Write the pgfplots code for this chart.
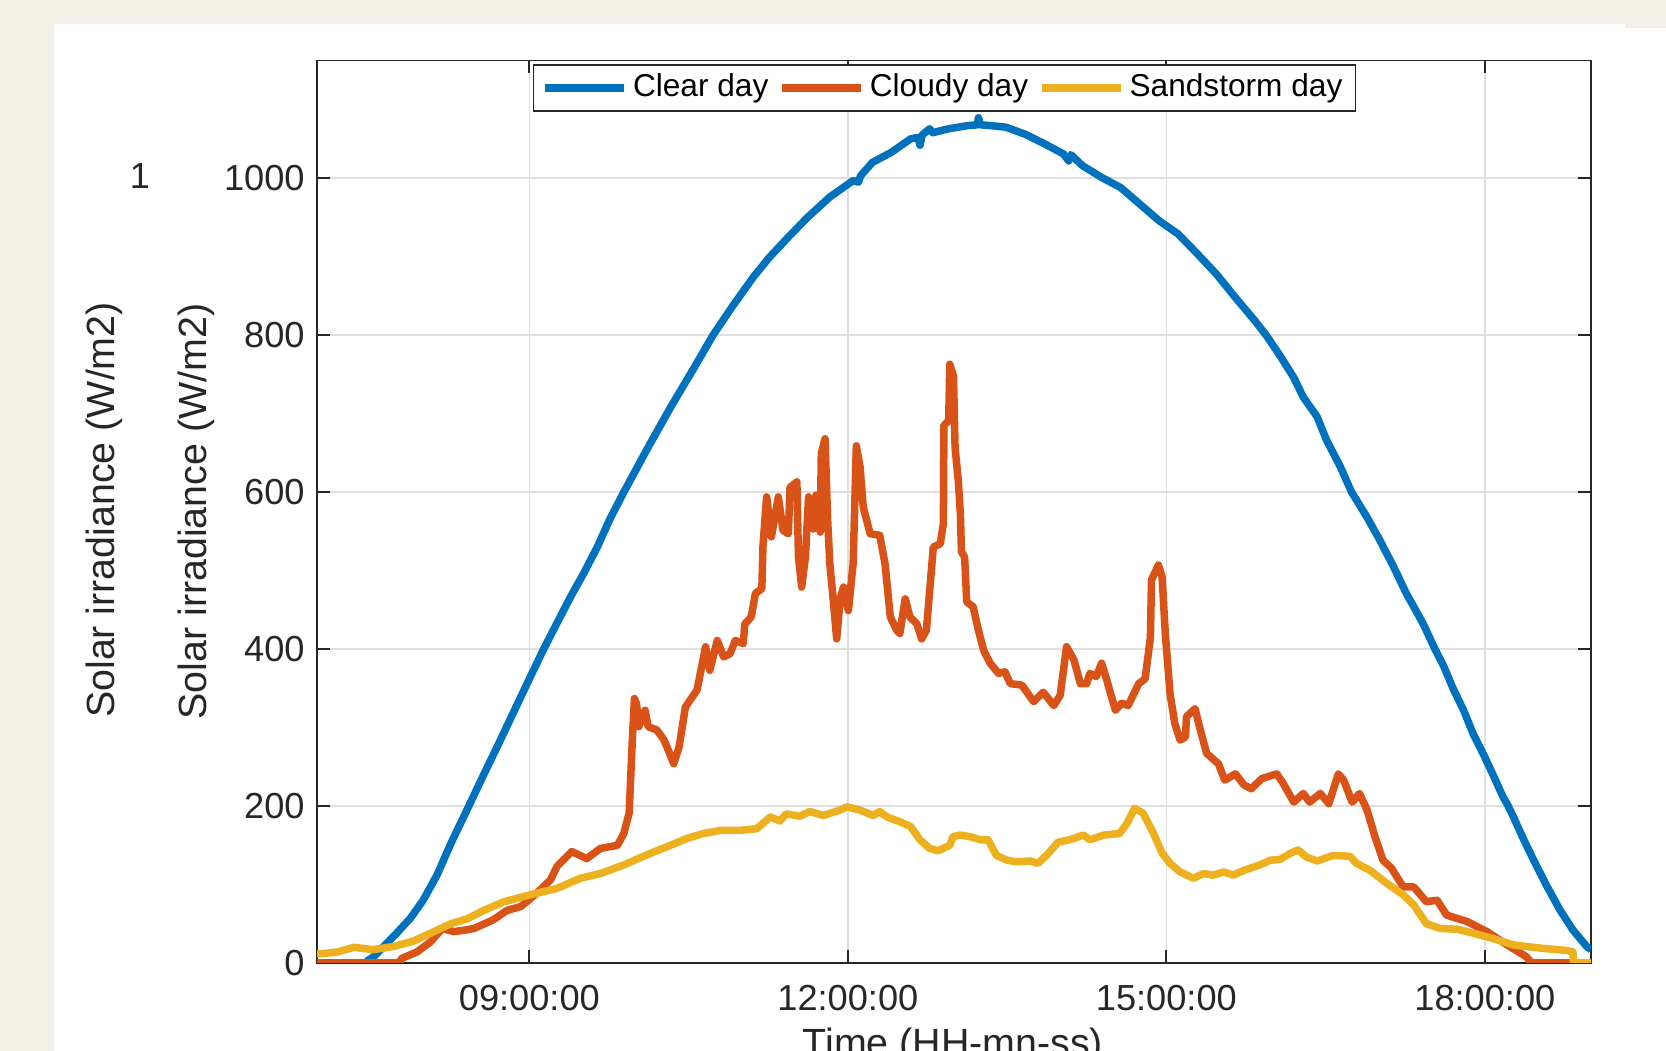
\documentclass[border=0pt]{standalone}
\usepackage{fontspec}
\setmainfont{Liberation Sans}
\usepackage{pgfplots}
\pgfplotsset{compat=1.18}
\definecolor{cBlue}{RGB}{0,114,189}
\definecolor{cOrange}{RGB}{217,83,25}
\definecolor{cYellow}{RGB}{237,177,32}
\definecolor{axisgray}{RGB}{38,38,38}
\definecolor{gridgray}{RGB}{223,223,223}
\definecolor{bgbeige}{RGB}{243,240,232}
\begin{document}
\begin{tikzpicture}
\useasboundingbox (0,0) rectangle (166.6mm,105.1mm);
\clip (0,0) rectangle (166.6mm,105.1mm);
\fill[bgbeige] (0,0) rectangle (166.6mm,105.1mm);
\fill[white] (5.4mm,0) rectangle (166.6mm,102.7mm);
\fill[bgbeige] (162.5mm,102.3mm) rectangle (166.6mm,102.7mm);
\begin{axis}[
  scale only axis,
  width=127.4mm, height=90.25mm,
  at={(31.7mm,8.8mm)}, anchor=south west,
  xmin=7, xmax=19, ymin=0, ymax=1150,
  xtick={9,12,15,18},
  xticklabels={09:00:00,12:00:00,15:00:00,18:00:00},
  ytick={0,200,400,600,800,1000},
  yticklabels={0,200,400,600,800,1000},
  tick align=inside,
  major tick length=1.3mm,
  grid=major,
  major grid style={color=gridgray, line width=0.4pt},
  axis line style={color=axisgray, line width=0.5pt},
  every tick/.style={color=axisgray, line width=0.5pt},
  ticklabel style={font=\fontsize{10.3}{12}\selectfont, text=axisgray},
  xticklabel style={yshift=-1.0mm},
  legend columns=3,
  legend cell align=left,
  legend style={at={(0.4925,0.9961)}, anchor=north,
    draw=axisgray, line width=0.5pt, fill=white,
    font=\fontsize{9}{10.5}\selectfont,
    inner xsep=0.8mm, inner ysep=0.4mm,
    nodes={inner sep=0.5mm, text=black},
    column sep=0mm,
    /tikz/every even column/.append style={column sep=0.5mm}},
  legend image code/.code={\draw[#1] (0mm,0mm) -- (7.9mm,0mm);},
]
\addplot[color=cBlue, line width=0.75mm, line join=round] coordinates {
(7.00,0) (7.45,0) (7.55,10) (7.65,24) (7.75,38) (7.88,57) (8.00,80) (8.13,112)
(8.26,152) (8.43,200) (8.57,240) (8.72,282) (8.86,322) (9.00,362) (9.135,400)
(9.26,433) (9.39,467) (9.51,496) (9.64,530) (9.76,566) (9.89,600) (10.11,655)
(10.33,708) (10.55,758) (10.73,800) (10.92,838) (11.11,874) (11.26,899)
(11.44,925) (11.62,950) (11.83,976) (12.05,997) (12.10,995) (12.12,1003)
(12.23,1020) (12.41,1033) (12.59,1050) (12.66,1052) (12.68,1042) (12.70,1055)
(12.77,1063) (12.80,1058) (12.95,1063) (13.13,1067) (13.22,1068) (13.23,1077)
(13.25,1068) (13.35,1067) (13.49,1065) (13.67,1056) (13.85,1044) (14.03,1031)
(14.08,1022) (14.10,1030) (14.21,1016) (14.39,1001) (14.57,988) (14.75,967)
(14.93,946) (15.11,929) (15.29,904) (15.47,878) (15.65,848) (15.83,819)
(15.94,800) (16.07,774) (16.20,746) (16.29,721) (16.42,696) (16.51,666)
(16.64,632) (16.745,600) (16.89,568) (17.01,539) (17.14,505) (17.26,471)
(17.33,454) (17.42,432) (17.53,400) (17.61,379) (17.70,350) (17.80,322)
(17.89,292) (17.99,265) (18.08,239) (18.17,212) (18.22,200) (18.27,186)
(18.36,159) (18.46,131) (18.58,99) (18.71,67) (18.83,42) (18.96,21) (19.00,17)
};
\addlegendentry{Clear day}
\addplot[color=cOrange, line width=0.75mm, line join=round] coordinates {
(7.00,0) (7.77,0) (7.80,6) (7.94,14) (8.07,27) (8.18,44) (8.29,40) (8.40,42)
(8.48,44) (8.66,55) (8.79,67) (8.92,72) (9.07,89) (9.20,106) (9.26,123)
(9.40,142) (9.54,133) (9.67,146) (9.83,150) (9.89,165) (9.94,191) (9.97,284)
(9.99,337) (10.01,330) (10.03,301) (10.09,322) (10.12,301) (10.20,297)
(10.27,284) (10.36,254) (10.41,275) (10.47,326) (10.58,348) (10.66,403)
(10.70,373) (10.77,411) (10.83,390) (10.89,394) (10.94,411) (11.015,407)
(11.03,432) (11.09,441) (11.13,471) (11.19,477) (11.20,530) (11.235,594)
(11.28,543) (11.345,594) (11.39,551) (11.44,547) (11.455,606) (11.52,613)
(11.535,517) (11.565,479) (11.60,517) (11.63,594) (11.675,553) (11.70,596)
(11.74,549) (11.75,649) (11.785,668) (11.81,564) (11.83,509) (11.86,466)
(11.895,413) (11.93,466) (11.96,479) (12.005,449) (12.05,509) (12.08,659)
(12.115,632) (12.145,581) (12.21,547) (12.30,545) (12.35,509) (12.40,441)
(12.46,424) (12.49,420) (12.54,464) (12.585,441) (12.65,432) (12.695,413)
(12.74,424) (12.805,530) (12.87,534) (12.90,560) (12.905,685) (12.95,691)
(12.96,763) (12.995,748) (13.01,657) (13.04,615) (13.06,572) (13.07,524)
(13.10,517) (13.12,460) (13.18,454) (13.23,424) (13.28,398) (13.34,382)
(13.42,369) (13.48,371) (13.53,356) (13.64,354) (13.75,333) (13.84,345)
(13.94,328) (14.00,341) (14.06,403) (14.13,386) (14.19,356) (14.25,356)
(14.28,369) (14.34,365) (14.39,382) (14.44,360) (14.52,322) (14.58,331)
(14.64,328) (14.74,356) (14.80,362) (14.85,415) (14.86,488) (14.925,507)
(14.96,492) (14.99,420) (15.035,343) (15.08,305) (15.13,284) (15.18,288)
(15.19,314) (15.27,324) (15.32,297) (15.38,267) (15.49,254) (15.55,233)
(15.65,241) (15.73,227) (15.80,222) (15.90,235) (16.04,241) (16.10,229)
(16.20,205) (16.29,216) (16.35,205) (16.45,216) (16.53,203) (16.62,241)
(16.67,233) (16.75,205) (16.82,216) (16.89,195) (16.965,161) (17.04,131)
(17.12,121) (17.23,97) (17.33,97) (17.45,78) (17.55,80) (17.64,61) (17.83,53)
(18.02,40) (18.21,23) (18.39,8) (18.44,0) (19.00,0)
};
\addlegendentry{Cloudy day}
\addplot[color=cYellow, line width=0.75mm, line join=round] coordinates {
(7.00,12) (7.06,12) (7.19,14) (7.35,20) (7.53,17) (7.72,21) (7.91,28) (8.07,38)
(8.26,50) (8.41,56) (8.57,67) (8.76,78) (9.01,87) (9.26,95) (9.48,108)
(9.67,114) (9.89,125) (10.11,138) (10.33,150) (10.49,159) (10.64,165)
(10.80,169) (10.98,169) (11.14,171) (11.27,186) (11.36,181) (11.42,190)
(11.55,187) (11.64,193) (11.77,188) (11.93,195) (11.99,199) (12.11,195)
(12.24,188) (12.30,193) (12.37,186) (12.49,180) (12.59,174) (12.68,157)
(12.77,146) (12.85,143) (12.96,150) (12.99,161) (13.06,163) (13.15,161)
(13.25,157) (13.32,157) (13.40,137) (13.50,131) (13.59,129) (13.72,130)
(13.79,127) (13.87,137) (13.98,154) (14.09,157) (14.22,163) (14.28,157)
(14.41,163) (14.56,165) (14.63,178) (14.70,197) (14.78,191) (14.88,165)
(14.96,140) (15.035,127) (15.13,116) (15.255,108) (15.35,114) (15.44,112)
(15.54,116) (15.63,112) (15.73,118) (15.88,125) (15.98,131) (16.07,132)
(16.17,140) (16.24,144) (16.32,135) (16.42,130) (16.57,137) (16.73,136)
(16.79,127) (16.92,118) (17.08,101) (17.23,87) (17.33,74) (17.45,50)
(17.58,44) (17.74,43) (17.89,38) (18.08,31) (18.27,23) (18.52,19) (18.77,16)
(18.83,14) (18.835,0) (19.00,0)
};
\addlegendentry{Sandstorm day}
\end{axis}
\node[rotate=90, anchor=center, font=\fontsize{11.2}{13}\selectfont, text=axisgray] at (10.4mm,54.1mm) {Solar irradiance (W/m2)};
\node[rotate=90, anchor=center, font=\fontsize{11.2}{13}\selectfont, text=axisgray] at (19.6mm,53.95mm) {Solar irradiance (W/m2)};
\node[anchor=center, font=\fontsize{10.3}{12}\selectfont, text=axisgray] at (14.0mm,87.5mm) {1};
\node[anchor=base, font=\fontsize{11.2}{13}\selectfont, text=axisgray] at (95.3mm,-0.58mm) {Time (HH-mn-ss)};
\end{tikzpicture}
\end{document}
